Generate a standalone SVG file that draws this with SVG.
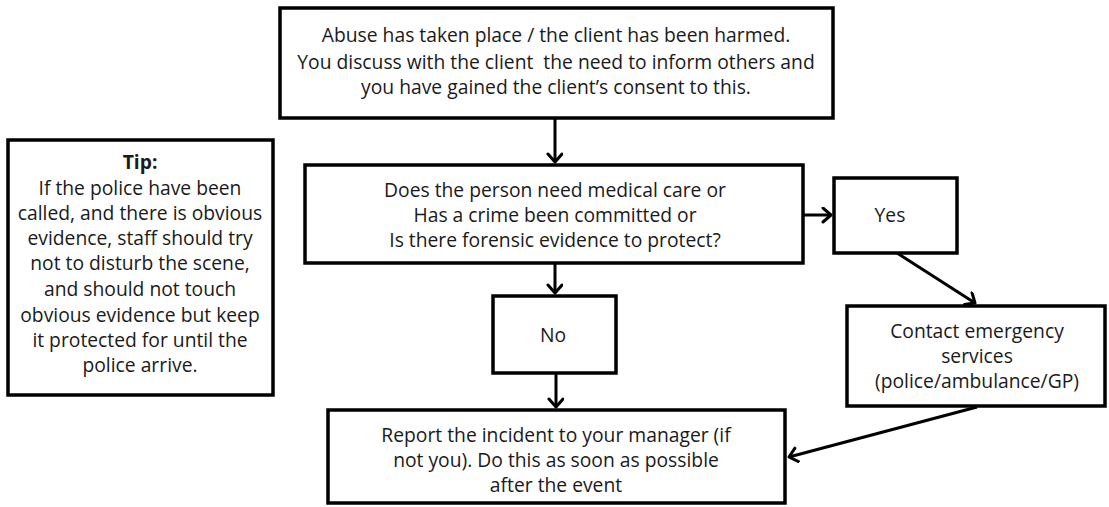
<svg xmlns="http://www.w3.org/2000/svg" width="1109" height="507" viewBox="0 0 1109 507">
<style>
.box{fill:#fff;stroke:#000;stroke-width:3.5}
.t{font-family:"Open Sans","Liberation Sans",sans-serif;font-size:19.3px;fill:#1a1a1a;text-anchor:middle;white-space:pre}
.b{font-weight:bold}
.c{fill:none;stroke:#000;stroke-width:3}
</style>
<defs>
<marker id="ah" markerUnits="userSpaceOnUse" markerWidth="16" markerHeight="18" refX="10" refY="8" orient="auto">
<path d="M2,1 L10,8 L2,15" fill="none" stroke="#000" stroke-width="3" stroke-linecap="round" stroke-linejoin="round"/>
</marker>
</defs>
<rect width="1109" height="507" fill="#fff"/>
<g id="connectors">
<line class="c" x1="555" y1="118" x2="555" y2="162" marker-end="url(#ah)"/>
<line class="c" x1="804" y1="215" x2="831" y2="215" marker-end="url(#ah)"/>
<line class="c" x1="897" y1="253" x2="975" y2="303" marker-end="url(#ah)"/>
<line class="c" x1="555" y1="263" x2="555" y2="293" marker-end="url(#ah)"/>
<line class="c" x1="556" y1="373" x2="556" y2="407" marker-end="url(#ah)"/>
<line class="c" x1="977" y1="407" x2="789" y2="457" marker-end="url(#ah)"/>
</g>
<g id="top">
<rect class="box" x="280" y="8" width="553" height="110"/>
<text class="t" x="556" y="42">Abuse has taken place / the client has been harmed.</text>
<text class="t" x="556" y="69" xml:space="preserve">You discuss with the client  the need to inform others and</text>
<text class="t" x="556" y="94">you have gained the client’s consent to this.</text>
</g>
<g id="tip">
<rect class="box" x="8" y="140" width="265" height="255"/>
<text class="t b" x="140" y="169">Tip:</text>
<text class="t" x="140" y="195">If the police have been</text>
<text class="t" x="140" y="220">called, and there is obvious</text>
<text class="t" x="140" y="245">evidence, staff should try</text>
<text class="t" x="140" y="270">not to disturb the scene,</text>
<text class="t" x="140" y="296">and should not touch</text>
<text class="t" x="140" y="322">obvious evidence but keep</text>
<text class="t" x="140" y="347">it protected for until the</text>
<text class="t" x="140" y="372">police arrive.</text>
</g>
<g id="question">
<rect class="box" x="305" y="165" width="498" height="98"/>
<text class="t" x="555" y="197">Does the person need medical care or</text>
<text class="t" x="555" y="222">Has a crime been committed or</text>
<text class="t" x="555" y="247">Is there forensic evidence to protect?</text>
</g>
<g id="yes">
<rect class="box" x="834" y="178" width="123" height="75"/>
<text class="t" x="890" y="222">Yes</text>
</g>
<g id="no">
<rect class="box" x="493" y="296" width="123" height="77"/>
<text class="t" x="553" y="342">No</text>
</g>
<g id="emergency">
<rect class="box" x="847" y="306" width="258" height="100"/>
<text class="t" x="977" y="338">Contact emergency</text>
<text class="t" x="977" y="363">services</text>
<text class="t" x="977" y="388">(police/ambulance/GP)</text>
</g>
<g id="report">
<rect class="box" x="328" y="410" width="457" height="93"/>
<text class="t" x="556" y="442">Report the incident to your manager (if</text>
<text class="t" x="556" y="467">not you). Do this as soon as possible</text>
<text class="t" x="556" y="492">after the event</text>
</g>
</svg>
